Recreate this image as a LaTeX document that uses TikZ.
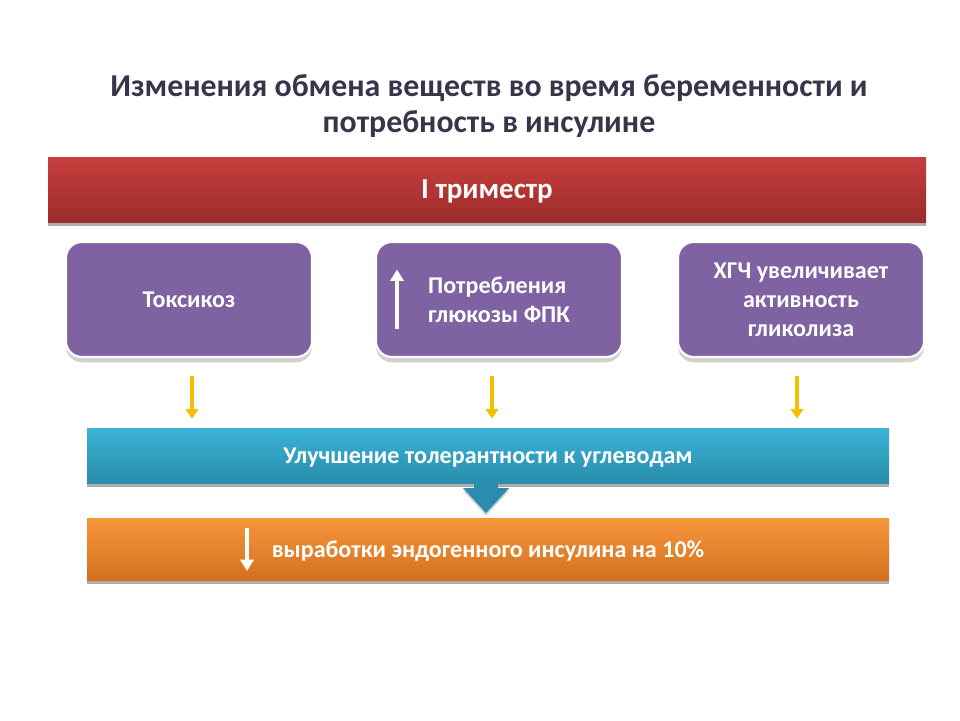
\documentclass[tikz,border=0pt]{standalone}
\usepackage{fontspec}
\setmainfont{Carlito}
\usetikzlibrary{arrows.meta,calc,shadows}

\definecolor{titlecol}{HTML}{3B3349}
\definecolor{redtop}{HTML}{C83E3E}
\definecolor{redbot}{HTML}{9C2B2B}
\definecolor{violetbox}{HTML}{7F62A2}
\definecolor{bluetop}{HTML}{39B3D4}
\definecolor{bluebot}{HTML}{2A8DAD}
\definecolor{orangetop}{HTML}{F8963C}
\definecolor{orangebot}{HTML}{D3701F}
\definecolor{arrowyellow}{HTML}{F6BE00}

\newcommand\pxu{0.02cm}

\tikzset{
  bar/.style = {rectangle, inner sep=0pt, text=white, text depth=0pt,
                font=\fontsize{13.7}{16}\selectfont\bfseries,
                drop shadow={shadow xshift=0pt, shadow yshift=-2.3pt,
                             fill=black!40, opacity=.8}},
  stagebox/.style = {rectangle, rounded corners=9pt, inner sep=0pt,
                fill=violetbox, draw=white, line width=1.2pt, text=white,
                minimum width=246*\pxu, minimum height=115*\pxu,
                font=\fontsize{13.7}{16.5}\selectfont\bfseries,
                drop shadow={shadow xshift=0pt, shadow yshift=-3pt,
                             fill=black!25, opacity=.7}},
  yarrow/.style = {draw=arrowyellow, line width=2.2pt,
                   -{Triangle[width=7pt,length=5.5pt]}},
  warrow/.style = {draw=white, line width=2pt,
                   -{Triangle[width=7.5pt,length=6.5pt]}}
}

\begin{document}
\begin{tikzpicture}[x=\pxu, y=-\pxu]
  \useasboundingbox (0,0) rectangle (960,720);

  % heading
  \node[align=center, text=titlecol,
        font=\fontsize{18.1}{21}\selectfont\bfseries] (title) at (489,106)
    {Изменения обмена веществ во время беременности и\\потребность в инсулине};

  % first trimester
  \node[bar, top color=redtop, bottom color=redbot,
        minimum width=878*\pxu, minimum height=65*\pxu,
        font=\fontsize{16.5}{20}\selectfont\bfseries] (trim) at (487,189.5)
    {I триместр};

  \node[stagebox, text depth=0pt] (t1) at (189,299.5) {Токсикоз};
  \node[stagebox, align=left, text depth=0pt] (t2) at (499,299.5)
    {Потребления\\глюкозы ФПК};
  \node[stagebox, align=center, text depth=0pt] (t3) at (801,299.5)
    {ХГЧ увеличивает\\активность\\гликолиза};
  \draw[warrow] ($(t2.center)+(-102,29)$) -- ($(t2.center)+(-102,-30)$);

  % result
  \node[bar, top color=bluetop, bottom color=bluebot,
        minimum width=802*\pxu, minimum height=55*\pxu] (tol) at (488,455.5)
    {Улучшение толерантности к углеводам};
  \node[bar, top color=orangetop, bottom color=orangebot,
        minimum width=802*\pxu, minimum height=62*\pxu] (ins) at (488,549)
    {выработки эндогенного инсулина на 10\%};
  \draw[warrow] ($(ins.center)+(-241,-21)$) -- ($(ins.center)+(-241,22)$);

  \foreach \b/\dx in {t1/3, t2/-7, t3/-4}
    \draw[yarrow, shorten <=18*\pxu, shorten >=9*\pxu]
      ([xshift=\dx*\pxu]\b.south) -- ([xshift=\dx*\pxu]\b.south |- tol.north);

  \fill[bluebot, drop shadow={shadow xshift=0pt, shadow yshift=-1.5pt,
        fill=black!30, opacity=.6}]
    (474,482) -- (498,482) -- (498,488) -- (509,488) -- (486,513)
    -- (463,488) -- (474,488) -- cycle;
\end{tikzpicture}
\end{document}
